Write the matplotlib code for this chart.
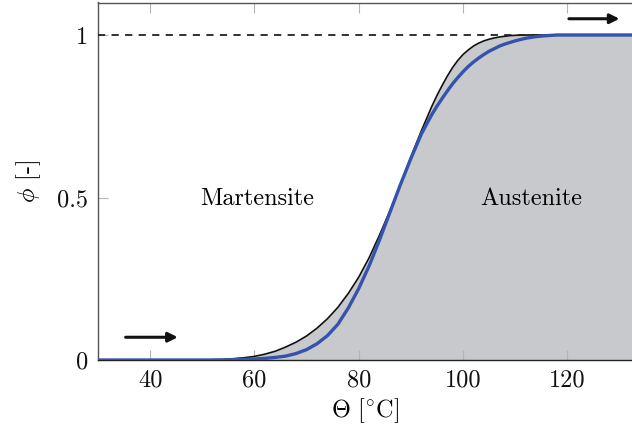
import matplotlib
matplotlib.use("Agg")
import matplotlib.pyplot as plt
import numpy as np

plt.rcParams['font.family'] = ['cmr10', 'DejaVu Serif']
plt.rcParams['mathtext.fontset'] = 'cm'
plt.rcParams['axes.formatter.use_mathtext'] = True

# Temperature grid [°C]
theta = [30, 50, 52, 54, 56, 58, 60, 62, 64, 66, 68, 70, 72, 74, 76, 78, 80, 82, 84,
         86, 88, 90, 92, 94, 95, 96, 97, 98, 99, 100, 101, 102, 103, 104, 105, 106,
         107, 108, 109, 110, 112, 114, 116, 118, 120, 133]
# black curve (upper / filled)
phi_black = [0, 0, 0.001, 0.002, 0.004, 0.007, 0.011, 0.018, 0.027, 0.04, 0.055,
             0.074, 0.098, 0.127, 0.162, 0.205, 0.255, 0.315, 0.385, 0.46, 0.54,
             0.625, 0.705, 0.78, 0.814, 0.845, 0.874, 0.9, 0.922, 0.94, 0.954,
             0.966, 0.975, 0.982, 0.987, 0.991, 0.994, 0.996, 0.998, 0.999,
             1.0, 1.0, 1.0, 1.0, 1.0, 1.0]
# blue curve
phi_blue = [0, 0, 0, 0, 0.001, 0.002, 0.003, 0.005, 0.008, 0.012, 0.02, 0.032,
            0.05, 0.075, 0.11, 0.16, 0.22, 0.29, 0.37, 0.455, 0.54, 0.62, 0.695,
            0.755, 0.781, 0.805, 0.828, 0.85, 0.869, 0.887, 0.903, 0.917, 0.929,
            0.94, 0.95, 0.958, 0.966, 0.972, 0.977, 0.982, 0.99, 0.995, 0.998,
            1.0, 1.0, 1.0]

xticks = [40, 60, 80, 100, 120]
yticks = [0, 0.5, 1]
ytick_labels = ['0', '0.5', '1']

fig = plt.figure(figsize=(6.32, 4.37), dpi=100)
ax = fig.add_axes([98/632, 1 - 360/437, 1 - 98/632, (360 - 2.5)/437])

ax.fill_between(theta, 0, phi_black, color='#c8c9cc', linewidth=0, zorder=1)
ax.axhline(1.0, color='#222222', linestyle=(0, (4, 3.5)), linewidth=1.3, zorder=4)
ax.plot(theta, phi_black, color='#111111', linewidth=1.2, zorder=3)
ax.plot(theta, phi_blue, color='#3453ab', linewidth=2.4, zorder=5,
        solid_joinstyle='round')

ax.annotate('', xy=(45.3, 0.07), xytext=(35.3, 0.07),
            arrowprops=dict(arrowstyle='-|>', color='#111111', lw=2.2,
                            mutation_scale=14, shrinkA=0, shrinkB=0))
ax.annotate('', xy=(130.0, 1.05), xytext=(120.3, 1.05),
            arrowprops=dict(arrowstyle='-|>', color='#111111', lw=2.2,
                            mutation_scale=14, shrinkA=0, shrinkB=0))

ax.text(60.5, 0.495, 'Martensite', ha='center', va='center', fontsize=17.5)
ax.text(113.0, 0.495, 'Austenite', ha='center', va='center', fontsize=17.5)

ax.set_xlim(30, 132.4)
ax.set_ylim(0, 1.1)
ax.set_xticks(xticks)
ax.set_xticklabels([str(t) for t in xticks])
ax.set_yticks(yticks)
ax.set_yticklabels(ytick_labels)

ax.tick_params(direction='in', length=7, width=0.8, color='#b4b4b4',
               labelsize=17.5, top=True, right=False, labelcolor='#111111', pad=7)
for s in ['left', 'top', 'bottom']:
    ax.spines[s].set_color('#555555')
    ax.spines[s].set_linewidth(1.0)
ax.spines['right'].set_visible(False)
ax.spines['bottom'].set_color('#222222')

ax.set_xlabel(r'$\Theta$ [$^{\circ}$C]', fontsize=17.5, labelpad=3)
ax.set_ylabel(r'$\phi$ [-]', fontsize=17.5, labelpad=10)

fig.savefig('out.png', dpi=100)
